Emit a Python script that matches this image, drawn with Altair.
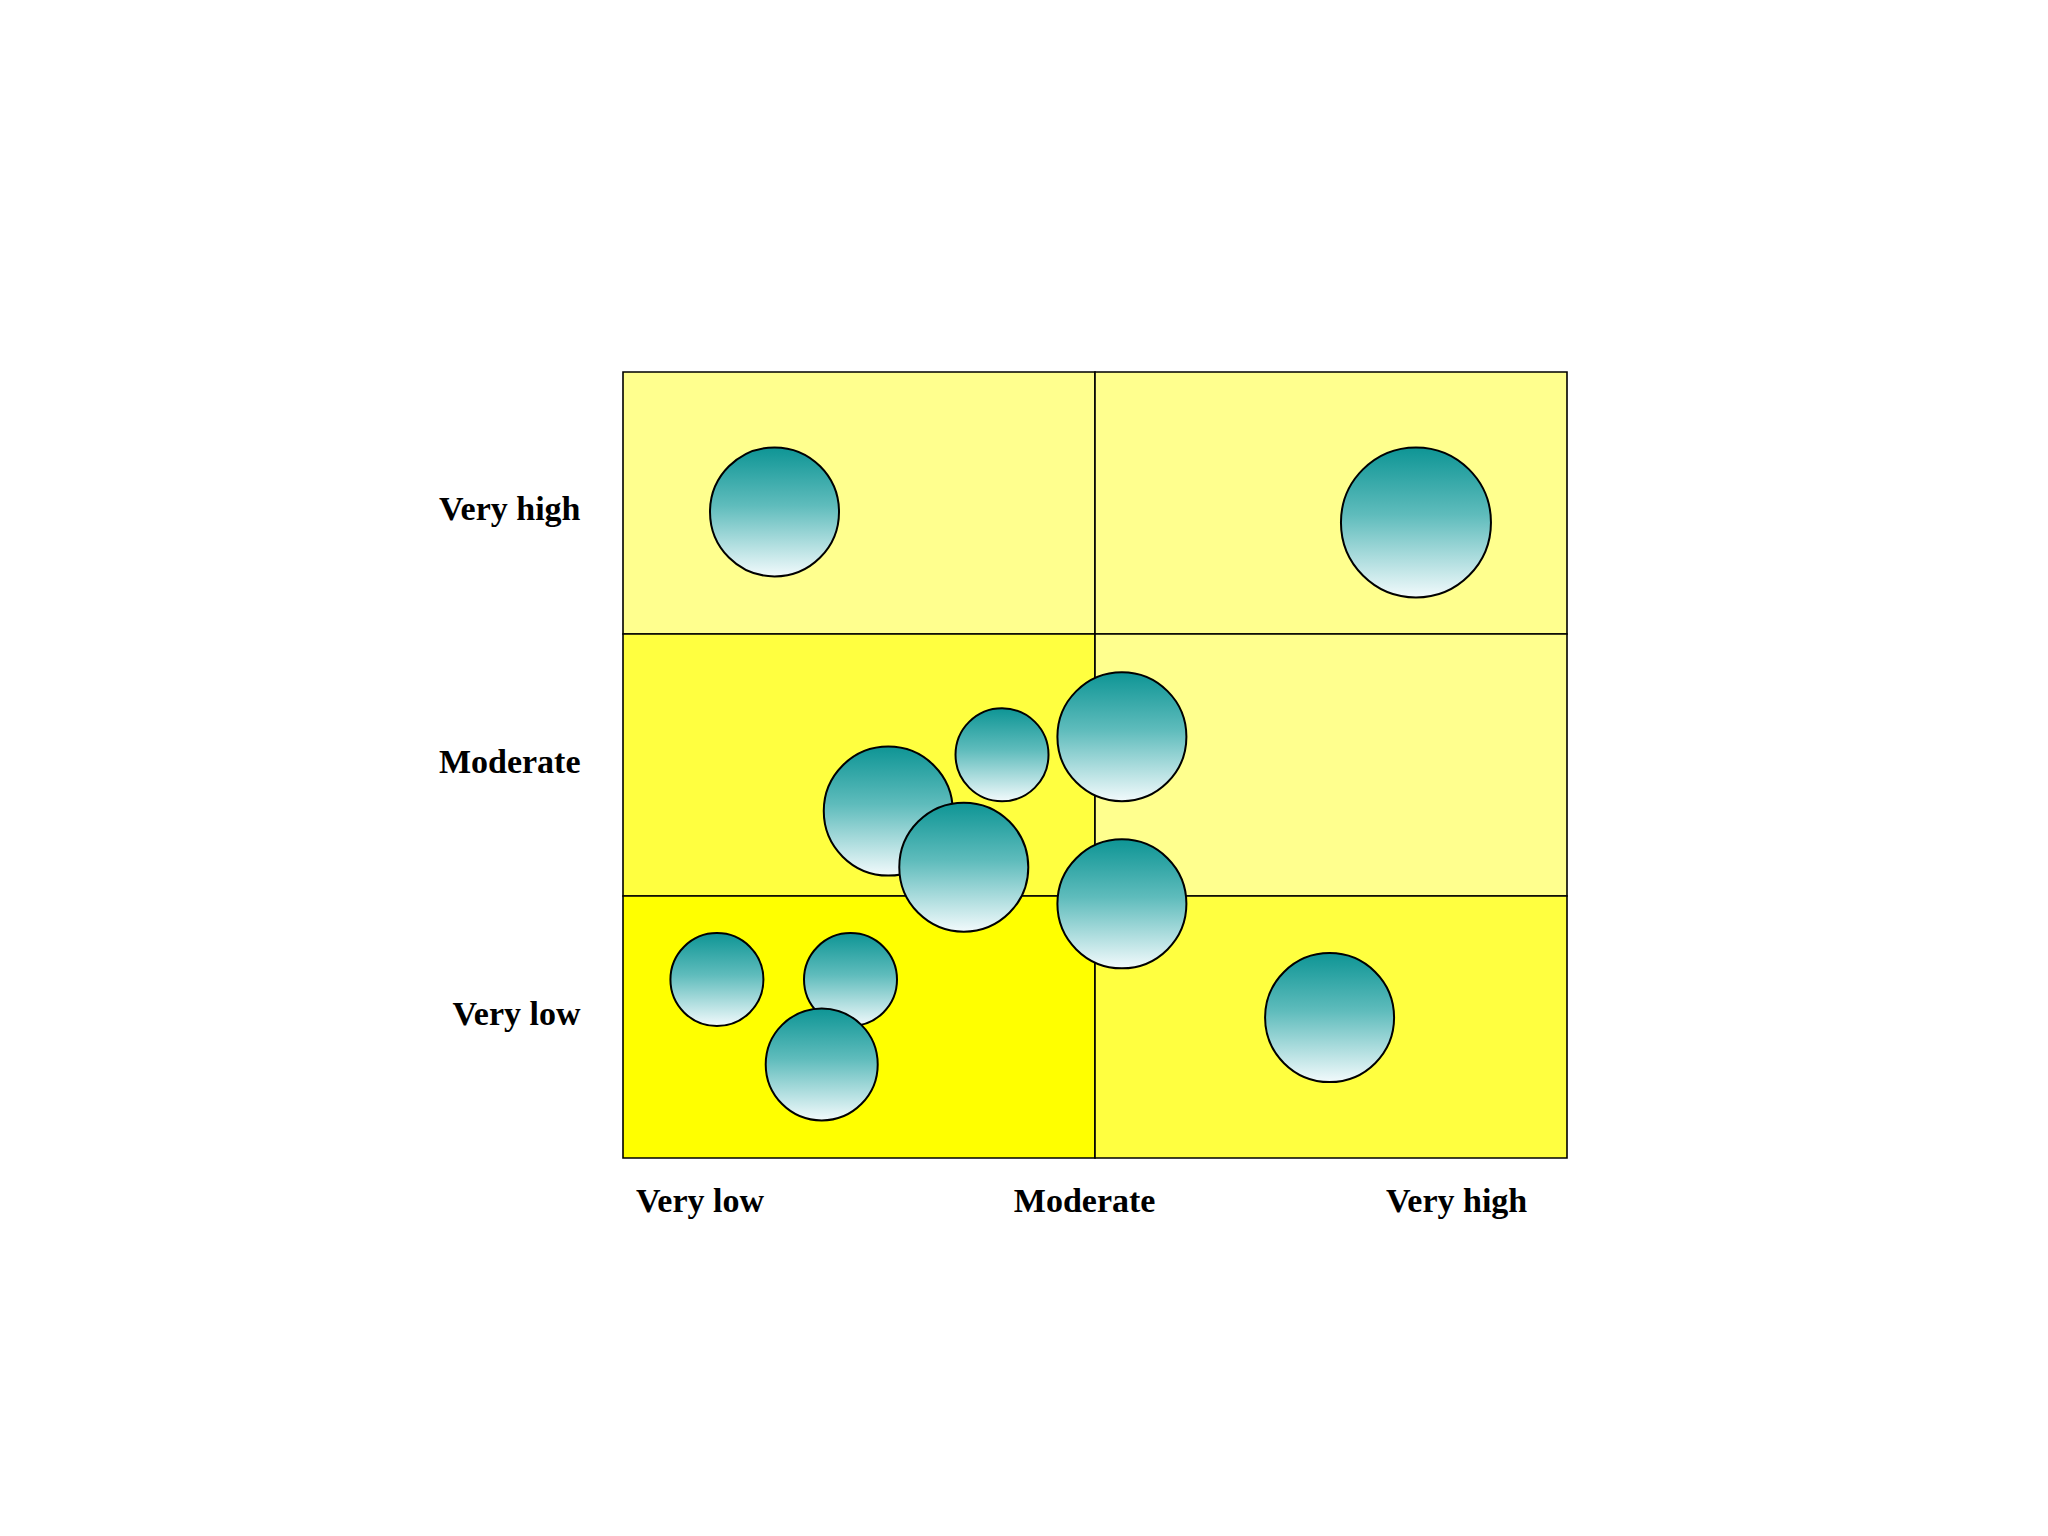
import altair as alt
import pandas as pd

# ---- data ----
cell_x0 = [0, 1, 0, 1, 0, 1]
cell_x1 = [1, 2, 1, 2, 1, 2]
cell_y0 = [2, 2, 1, 1, 0, 0]
cell_y1 = [3, 3, 2, 2, 1, 1]
cell_tone = ["pale", "pale", "mid", "pale", "full", "mid"]

bubble_x = [0.321, 1.680, 0.803, 1.057, 0.562, 0.722, 1.057, 0.199, 0.482, 0.421, 1.497]
bubble_y = [2.466, 2.426, 1.539, 1.608, 1.324, 1.110, 0.970, 0.681, 0.681, 0.357, 0.536]
bubble_diam = [129, 150, 93, 129, 129, 129, 129, 93, 93, 112, 129]

x_label_pos = [0.162, 0.977, 1.765]
x_label_text = ["Very low", "Moderate", "Very high"]
y_label_pos = [2.474, 1.510, 0.547]
y_label_text = ["Very high", "Moderate", "Very low"]

cells = pd.DataFrame({"x0": cell_x0, "x1": cell_x1, "y0": cell_y0, "y1": cell_y1, "tone": cell_tone})
bubbles = pd.DataFrame({"x": bubble_x, "y": bubble_y, "diam": bubble_diam})


def label_expr(pos, text):
    # pick the label whose tick position is nearest
    arr_p = "[" + ",".join(str(p) for p in pos) + "]"
    arr_t = "[" + ",".join(f"'{t}'" for t in text) + "]"
    parts = []
    for i, p in enumerate(pos):
        parts.append(f"abs(datum.value - {p}) < 0.05 ? {arr_t}[{i}]")
    return " : ".join(parts) + " : ''"


FONT = "Liberation Serif"

x_scale = alt.Scale(domain=[0, 2], nice=False, zero=False)
y_scale = alt.Scale(domain=[0, 3], nice=False, zero=False)

x_axis = alt.Axis(
    values=x_label_pos, labelExpr=label_expr(x_label_pos, x_label_text), title=None,
    domain=False, ticks=False, tickSize=0, grid=False, labelFont=FONT,
    labelFontWeight="bold", labelFontSize=34, labelColor="black",
    labelBaseline="alphabetic", labelPadding=53, labelFlush=False, labelOverlap=False,
    labelAlign="center",
)
y_axis = alt.Axis(
    values=y_label_pos, labelExpr=label_expr(y_label_pos, y_label_text), title=None,
    domain=False, ticks=False, tickSize=0, grid=False, labelFont=FONT,
    labelFontWeight="bold", labelFontSize=34, labelColor="black",
    labelBaseline="middle", labelPadding=43, labelFlush=False, labelOverlap=False,
    labelAlign="right",
)

rects = alt.Chart(cells).mark_rect(stroke="black", strokeWidth=1.6, opacity=1).encode(
    x=alt.X("x0:Q", scale=x_scale, axis=x_axis),
    x2="x1:Q",
    y=alt.Y("y0:Q", scale=y_scale, axis=y_axis),
    y2="y1:Q",
    fill=alt.Fill("tone:N", scale=alt.Scale(domain=["pale", "mid", "full"],
                                             range=["#FFFF8E", "#FFFF40", "#FFFF00"]), legend=None),
)

grad = alt.LinearGradient(
    gradient="linear",
    stops=[alt.GradientStop(color="#0e9595", offset=0),
           alt.GradientStop(color="#5fbcbc", offset=0.45),
           alt.GradientStop(color="#f2fafc", offset=1)],
    x1=0, x2=0, y1=0, y2=1,
)

# Vega circle symbol: radius = sqrt(size)/2, so size = diameter^2
circles = alt.Chart(bubbles).transform_calculate(
    area="datum.diam * datum.diam"
).mark_circle(fill=grad, stroke="black", strokeWidth=2, opacity=1, fillOpacity=1).encode(
    x=alt.X("x:Q", scale=x_scale, axis=x_axis),
    y=alt.Y("y:Q", scale=y_scale, axis=y_axis),
    size=alt.Size("area:Q", scale=None, legend=None),
)

chart = alt.layer(rects, circles).properties(
    width=944, height=786,
    autosize=alt.AutoSizeParams(type="none"),
    padding={"left": 615, "top": 364, "right": 400, "bottom": 300},
    background="white",
).configure_view(strokeWidth=0)

chart.save("out.html", embed_options={"renderer": "svg", "actions": False})
